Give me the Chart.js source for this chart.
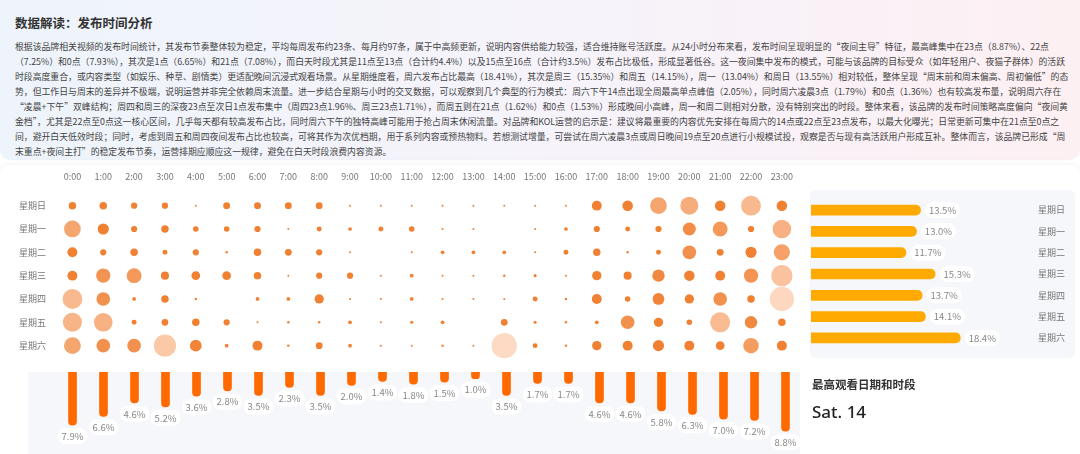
<!DOCTYPE html>
<html><head><meta charset="utf-8">
<script src="https://cdn.jsdelivr.net/npm/chart.js@4"></script>
<style>
body{margin:0;width:1080px;height:454px;background:#fff;font-family:"Noto Sans CJK SC","Noto Sans",sans-serif;overflow:hidden;position:relative}
#card{position:absolute;left:0;top:0;width:1080px;height:160px;background:linear-gradient(90deg,#eef4fb 0%,#f6f3fb 50%,#fdf0f3 100%);border-radius:0 0 10px 10px}
#title{position:absolute;left:15px;top:13px;font-size:12.5px;font-weight:bold;color:#333}
#para{position:absolute;left:15px;top:39px;font-size:8.85px;line-height:15px;color:#444;white-space:nowrap}
#card2{position:absolute;left:0;top:165px;width:1080px;height:300px;background:#fff;border-radius:10px;box-shadow:0 -2px 8px rgba(0,0,0,0.04)}
#lowpanel{position:absolute;left:28px;top:372px;width:772px;height:90px;background:#f5f7fa}
#rpanel{position:absolute;left:810px;top:190px;width:265px;height:168px;background:#f5f7fa;border-radius:6px}
canvas{position:absolute}
#hl{position:absolute;left:812px;top:376px;font-size:11.5px;color:#333;font-weight:bold}
#hv{position:absolute;left:812px;top:400px;font-size:17px;color:#222;font-family:"Noto Sans",sans-serif;font-weight:500}
</style></head><body>
<div id="card"></div>
<div id="title">数据解读：发布时间分析</div>
<div id="para">根据该品牌相关视频的发布时间统计，其发布节奏整体较为稳定，平均每周发布约23条、每月约97条，属于中高频更新，说明内容供给能力较强，适合维持账号活跃度。从24小时分布来看，发布时间呈现明显的“夜间主导”特征，最高峰集中在23点（8.87%）、22点<br>（7.25%）和0点（7.93%），其次是1点（6.65%）和21点（7.08%），而白天时段尤其是11点至13点（合计约4.4%）以及15点至16点（合计约3.5%）发布占比极低，形成显著低谷。这一夜间集中发布的模式，可能与该品牌的目标受众（如年轻用户、夜猫子群体）的活跃<br>时段高度重合，或内容类型（如娱乐、种草、剧情类）更适配晚间沉浸式观看场景。从星期维度看，周六发布占比最高（18.41%），其次是周三（15.35%）和周五（14.15%），周一（13.04%）和周日（13.55%）相对较低，整体呈现“周末前和周末偏高、周初偏低”的态<br>势，但工作日与周末的差异并不极端，说明运营并非完全依赖周末流量。进一步结合星期与小时的交叉数据，可以观察到几个典型的行为模式：周六下午14点出现全周最高单点峰值（2.05%），同时周六凌晨3点（1.79%）和0点（1.36%）也有较高发布量，说明周六存在<br>“凌晨+下午”双峰结构；周四和周三的深夜23点至次日1点发布集中（周四23点1.96%、周三23点1.71%），而周五则在21点（1.62%）和0点（1.53%）形成晚间小高峰，周一和周二则相对分散，没有特别突出的时段。整体来看，该品牌的发布时间策略高度偏向“夜间黄<br>金档”，尤其是22点至0点这一核心区间，几乎每天都有较高发布占比，同时周六下午的独特高峰可能用于抢占周末休闲流量。对品牌和KOL运营的启示是：建议将最重要的内容优先安排在每周六的14点或22点至23点发布，以最大化曝光；日常更新可集中在21点至0点之<br>间，避开白天低效时段；同时，考虑到周五和周四夜间发布占比也较高，可将其作为次优档期，用于系列内容或预热物料。若想测试增量，可尝试在周六凌晨3点或周日晚间19点至20点进行小规模试投，观察是否与现有高活跃用户形成互补。整体而言，该品牌已形成“周<br>末重点+夜间主打”的稳定发布节奏，运营排期应顺应这一规律，避免在白天时段浪费内容资源。</div>
<div id="card2"></div>
<div id="lowpanel"></div>
<div id="rpanel"></div>
<canvas id="bub" style="left:0;top:170px;width:810px;height:200px"></canvas>
<canvas id="hour" style="left:0;top:372px;width:810px;height:82px"></canvas>
<canvas id="day" style="left:800px;top:190px;width:280px;height:168px"></canvas>
<div id="hl">最高观看日期和时段</div>
<div id="hv">Sat. 14</div>
<script>
const hours=["0:00","1:00","2:00","3:00","4:00","5:00","6:00","7:00","8:00","9:00","10:00","11:00","12:00","13:00","14:00","15:00","16:00","17:00","18:00","19:00","20:00","21:00","22:00","23:00"];
const days=["星期日","星期一","星期二","星期三","星期四","星期五","星期六"];
const sun=[0.6,0.6,0.5,0.5,0.15,0.55,0.55,0.55,0.55,0.15,0.15,0.15,0.1,0.1,0.15,0.05,0.05,0.8,0.85,1.35,1.45,0.85,1.6,0.85];
const mon=[1.35,0.9,0.5,0.6,0.45,0.45,0.5,0.15,0.4,0.3,0.4,0.45,0.1,0.1,0,0.05,0.3,0.5,0.4,0.5,1.05,1.2,0.5,1.5];
const tue=[0.8,0.5,0.6,0.4,0.5,0.2,0.6,0.55,0.5,0.1,0,0.05,0.3,0.3,0.3,0.15,0.4,0.6,0.2,0.4,1.1,0.55,0.9,1.3];
const wed=[0.8,1.15,1.2,0.65,0.7,0.7,0.6,0.1,0.5,0.5,0.1,0.3,0.1,0.05,0.2,0.25,0.1,0.75,0.65,1.0,0.85,0.8,1.15,1.71];
const thu=[1.6,1.1,0.3,0.6,0.2,0,0.3,0.3,0.75,0.05,0.1,0.3,0.05,0.1,0.05,0.4,0.2,0.8,0.45,0.95,0.75,1.1,0.6,1.96];
const fri=[1.53,1.5,0.4,0.55,0.6,0.5,0.1,0.2,0.2,0.3,0.1,0.25,0.3,0,0.55,0.25,0.2,0.3,1.1,0.75,0.45,1.62,1.0,0.6];
const sat=[1.36,1.1,1.1,1.79,0.95,0.3,0.8,0.2,0.55,0.3,0.1,0.05,0.2,0.05,2.05,0.4,0.2,0.75,0.8,0.9,0.8,0.7,1.25,0.8];
const hourPct=[7.9,6.6,4.6,5.2,3.6,2.8,3.5,2.3,3.5,2.0,1.4,1.8,1.5,1.0,3.5,1.7,1.7,4.6,4.6,5.8,6.3,7.0,7.2,8.8];
const dayPct=[13.5,13.0,11.7,15.3,13.7,14.1,18.4];

const grid=[sun,mon,tue,wed,thu,fri,sat];
const pts=[];
grid.forEach((row,d)=>row.forEach((v,h)=>{if(v>0)pts.push({x:h,y:days[d],v:v});}));
function col(v){const t=Math.min(1,Math.max(0,(v-0.9)/1.1));
 const a=[240,128,50],b=[253,218,196];
 return `rgb(${a.map((c,i)=>Math.round(c+(b[i]-c)*t)).join(',')})`;}
const tickFont={family:"Noto Sans CJK SC",size:9};
new Chart(document.getElementById('bub'),{type:'bubble',
 data:{datasets:[{data:pts,clip:false,
  radius:c=>c.raw?Math.max(1,c.raw.v*6.2):0,
  backgroundColor:c=>c.raw?col(c.raw.v):'#f08032',borderWidth:0,hoverRadius:0}]},
 options:{responsive:false,animation:false,layout:{padding:{bottom:10}},
  plugins:{legend:{display:false},tooltip:{enabled:false}},
  scales:{x:{type:'linear',position:'top',min:-0.5,max:23.5,
    afterBuildTicks:s=>{s.ticks=hours.map((h,i)=>({value:i}));},
    ticks:{callback:(v)=>hours[v],color:'#777',font:tickFont,maxRotation:0,autoSkip:false,padding:4},
    grid:{display:false},border:{display:false},afterFit:s=>{s.height=24;}},
   y:{type:'category',labels:days,offset:true,ticks:{color:'#777',font:tickFont,padding:3},
    grid:{display:false},border:{display:false},afterFit:s=>{s.width=57;}}}}});

const labelPlugin={id:'lbl',afterDatasetsDraw(ch,args,opts){
 const ctx=ch.ctx;const meta=ch.getDatasetMeta(0);
 ctx.save();ctx.font='9.5px "Noto Sans CJK SC"';ctx.textAlign='center';ctx.textBaseline='middle';
 meta.data.forEach((el,i)=>{const v=ch.data.datasets[0].data[i];const t=v.toFixed(1)+'%';
  let x,y;if(opts.h){x=el.x+22;y=el.y;}else{x=el.x;y=el.y+11;}
  const w=ctx.measureText(t).width+8;
  ctx.fillStyle='#fff';ctx.beginPath();ctx.roundRect(x-w/2,y-8,w,16,8);ctx.fill();
  ctx.fillStyle='#888';ctx.fillText(t,x,y);});
 ctx.restore();}};

new Chart(document.getElementById('hour'),{type:'bar',
 data:{labels:hours,datasets:[{data:hourPct,backgroundColor:'#ff6a00',barThickness:8,borderRadius:{bottomLeft:4,bottomRight:4,topLeft:0,topRight:0},borderSkipped:false}]},
 options:{responsive:false,animation:false,layout:{padding:{left:57,right:9,top:0,bottom:0}},
  plugins:{legend:{display:false},tooltip:{enabled:false},lbl:{h:false}},
  scales:{x:{display:false},y:{display:false,min:0,max:12.2,reverse:true}}},plugins:[labelPlugin]});

new Chart(document.getElementById('day'),{type:'bar',
 data:{labels:days,datasets:[{data:dayPct,backgroundColor:'#ffaa00',barThickness:10,borderRadius:{topRight:5,bottomRight:5,topLeft:0,bottomLeft:0},borderSkipped:false}]},
 options:{indexAxis:'y',responsive:false,animation:false,layout:{padding:{left:11,top:4,bottom:2,right:14}},
  plugins:{legend:{display:false},tooltip:{enabled:false},lbl:{h:true}},
  scales:{x:{display:false,min:0,max:26.5},
   y:{position:'right',ticks:{color:'#777',font:tickFont,padding:4},grid:{display:false},border:{display:false},afterFit:s=>{s.width=40;}}}},plugins:[labelPlugin]});
</script></body></html>
